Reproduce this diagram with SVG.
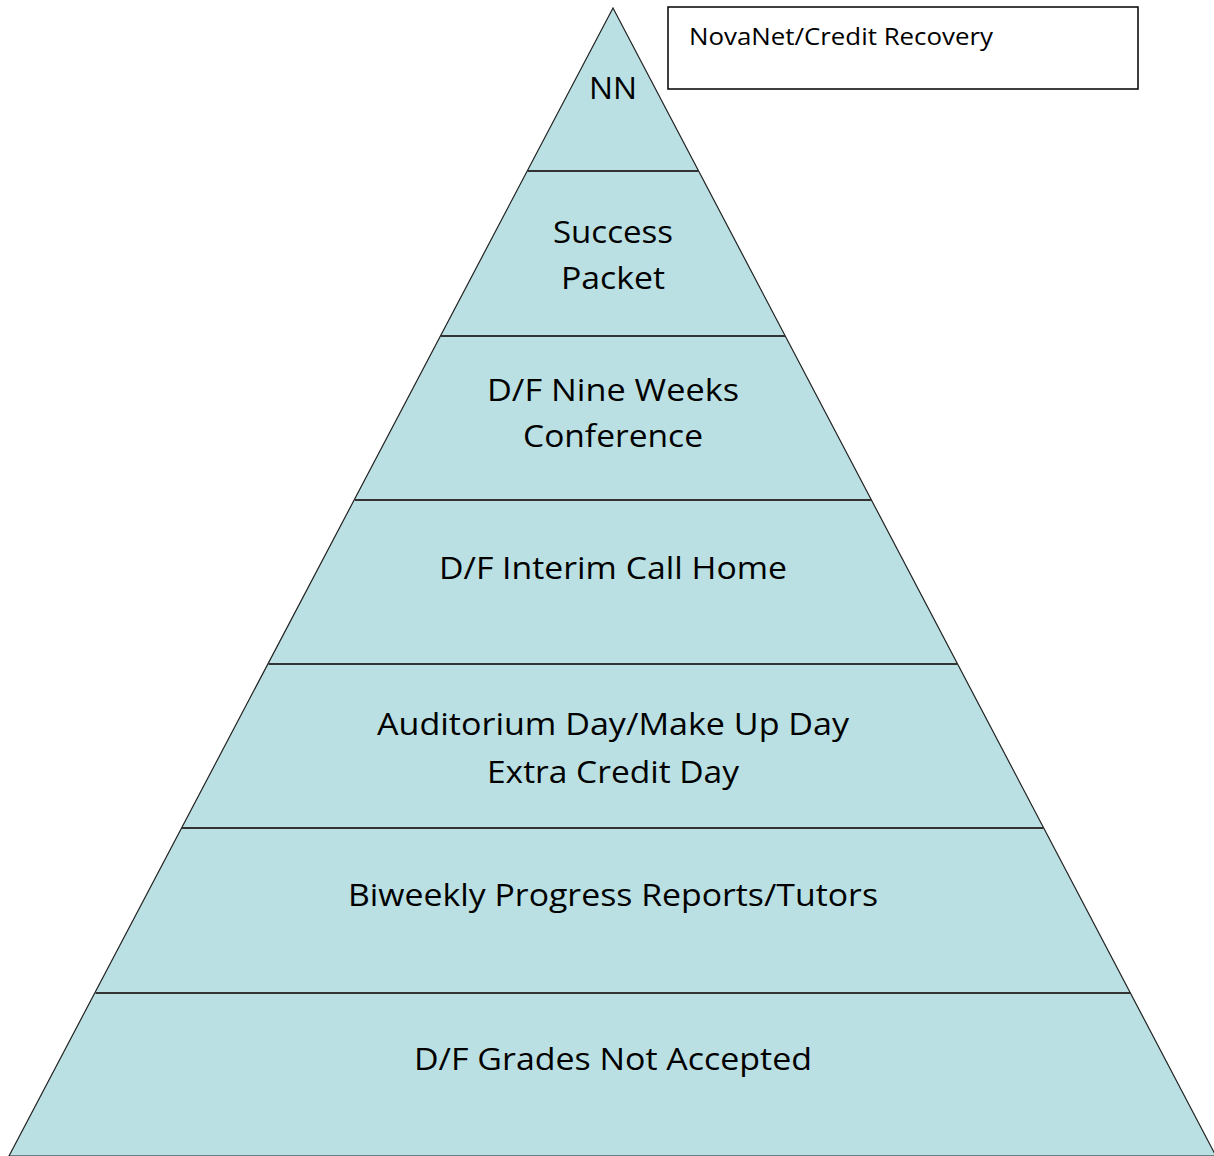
<svg xmlns="http://www.w3.org/2000/svg" width="1214" height="1156" viewBox="0 0 1214 1156">
<style>
.t{font-family:"Open Sans","Liberation Sans",sans-serif;font-size:31px;fill:#000;text-anchor:middle}
.s{font-family:"Open Sans","Liberation Sans",sans-serif;font-size:24px;fill:#000}
.band{stroke:#333;stroke-width:2}
</style>
<rect width="1214" height="1156" fill="#fff"/>
<g id="pyramid">
<polygon points="613,8 9,1156 1216,1156" fill="#BAE0E3" stroke="#222" stroke-width="1.2"/>
</g>
<g id="connectors">
<line class="band" x1="527.4" y1="171" x2="698.6" y2="171"/>
<line class="band" x1="441" y1="336" x2="785" y2="336"/>
<line class="band" x1="355" y1="500" x2="871" y2="500"/>
<line class="band" x1="268.5" y1="664" x2="957.5" y2="664"/>
<line class="band" x1="182" y1="828" x2="1044" y2="828"/>
<line class="band" x1="95.5" y1="993" x2="1130.5" y2="993"/>
</g>
<g id="node-nn"><text class="t" x="613" y="99" textLength="48" lengthAdjust="spacingAndGlyphs">NN</text></g>
<g id="node-success"><text class="t" x="613" y="243" textLength="120" lengthAdjust="spacingAndGlyphs">Success</text><text class="t" x="613" y="289" textLength="104" lengthAdjust="spacingAndGlyphs">Packet</text></g>
<g id="node-nine"><text class="t" x="613" y="401" textLength="252" lengthAdjust="spacingAndGlyphs">D/F Nine Weeks</text><text class="t" x="613" y="447" textLength="180" lengthAdjust="spacingAndGlyphs">Conference</text></g>
<g id="node-interim"><text class="t" x="613" y="579" textLength="348" lengthAdjust="spacingAndGlyphs">D/F Interim Call Home</text></g>
<g id="node-aud"><text class="t" x="613" y="735" textLength="472" lengthAdjust="spacingAndGlyphs">Auditorium Day/Make Up Day</text><text class="t" x="613" y="783" textLength="252" lengthAdjust="spacingAndGlyphs">Extra Credit Day</text></g>
<g id="node-biweekly"><text class="t" x="613" y="906" textLength="530" lengthAdjust="spacingAndGlyphs">Biweekly Progress Reports/Tutors</text></g>
<g id="node-grades"><text class="t" x="613" y="1070" textLength="398" lengthAdjust="spacingAndGlyphs">D/F Grades Not Accepted</text></g>
<g id="node-novanet">
<rect x="668" y="7" width="470" height="82" fill="#fff" stroke="#000" stroke-width="1.5"/>
<text class="s" x="689" y="45" textLength="304" lengthAdjust="spacingAndGlyphs">NovaNet/Credit Recovery</text>
</g>
</svg>
